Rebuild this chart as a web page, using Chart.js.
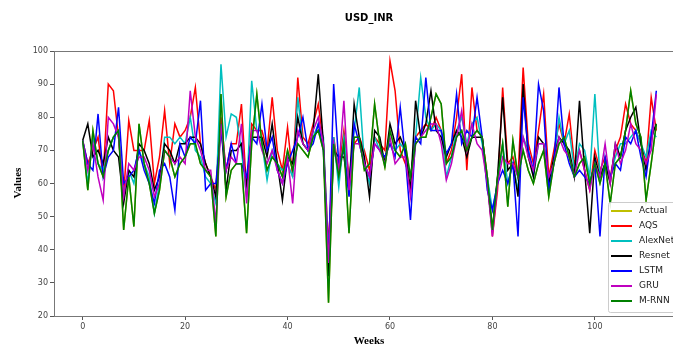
<html>
  <head>
    <script src="https://cdn.jsdelivr.net/npm/chart.js@4.4.1/dist/chart.umd.min.js"></script>
    <style>
      body { margin: 0; overflow: hidden; background: #fff; }
    </style>
  </head>
  <body>
    <canvas id="myChart" width="700" height="347"></canvas>
    <script>
      // weekly values (weeks 0..112)
      const actual = [
        73, 58, 76, 66, 62, 70, 74, 76, 46, 62,
        47, 78, 66, 60, 51, 58, 70, 68, 62, 66,
        68, 72, 72, 66, 64, 62, 44, 87, 56, 64,
        66, 66, 45, 72, 87, 72, 64, 68, 66, 62,
        70, 64, 72, 70, 68, 74, 76, 70, 24, 72,
        62, 72, 45, 74, 74, 64, 66, 84, 72, 65,
        76, 70, 68, 72, 62, 72, 74, 74, 80, 87,
        84, 66, 68, 74, 76, 70, 74, 76, 74, 62,
        46, 62, 72, 53, 73, 62, 70, 64, 60, 66,
        70, 56, 66, 72, 74, 68, 62, 66, 68, 60,
        66, 60, 66, 54, 66, 68, 76, 88, 78, 74,
        55, 66, 78
      ];
      const aqs = [
        73, 66, 70, 74, 62, 90, 88, 74, 57, 79,
        70, 70, 70, 79, 60, 68, 82, 66, 78, 74,
        76, 80, 89, 72, 66, 62, 58, 80, 64, 72,
        72, 84, 58, 78, 76, 76, 70, 86, 70, 64,
        77, 62, 92, 74, 72, 78, 84, 72, 41, 74,
        64, 76, 62, 72, 74, 70, 64, 74, 72, 70,
        97, 88, 70, 66, 62, 74, 76, 78, 76, 80,
        76, 66, 70, 80, 93, 64, 89, 76, 74, 62,
        44, 58, 89, 66, 68, 62, 95, 72, 66, 76,
        87, 62, 70, 78, 72, 81, 66, 70, 64, 58,
        70, 64, 68, 62, 70, 74, 84, 78, 76, 72,
        66, 86, 76
      ];
      const alexnet = [
        73, 60, 74, 66, 64, 70, 74, 76, 56, 64,
        60, 70, 66, 62, 51, 60, 74, 74, 72, 74,
        72, 80, 70, 68, 62, 60, 54, 96, 74, 81,
        80, 70, 56, 91, 76, 72, 61, 70, 66, 64,
        66, 62, 86, 72, 70, 74, 78, 74, 38, 74,
        59, 74, 60, 76, 89, 66, 60, 74, 70, 68,
        72, 70, 72, 70, 62, 74, 92, 80, 76, 78,
        76, 62, 68, 76, 80, 72, 78, 80, 72, 62,
        52, 60, 72, 60, 66, 58, 74, 70, 62, 72,
        72, 60, 66, 80, 72, 76, 64, 72, 70, 62,
        87, 62, 66, 62, 68, 72, 72, 74, 76, 72,
        68, 76, 74
      ];
      const resnet = [
        73, 78, 68, 70, 66, 74, 70, 68, 54, 64,
        62, 72, 70, 66, 58, 62, 72, 70, 66, 72,
        72, 74, 74, 72, 66, 62, 56, 78, 58, 70,
        70, 72, 60, 74, 74, 74, 68, 78, 66, 55,
        68, 66, 80, 72, 70, 76, 93, 72, 32, 70,
        68, 68, 58, 84, 74, 68, 56, 76, 74, 66,
        78, 72, 74, 70, 58, 85, 74, 78, 88, 76,
        74, 68, 72, 76, 74, 68, 74, 74, 74, 60,
        46, 62, 86, 64, 66, 56, 90, 68, 62, 74,
        72, 60, 68, 74, 72, 70, 62, 85, 64, 45,
        68, 62, 66, 60, 72, 68, 76, 80, 83, 72,
        64, 74, 78
      ];
      const lstm = [
        73, 66, 64, 81, 62, 68, 70, 83, 60, 62,
        64, 70, 64, 60, 54, 64, 66, 62, 52, 72,
        68, 74, 72, 85, 58, 60, 60, 76, 64, 72,
        66, 66, 62, 74, 72, 84, 70, 74, 64, 60,
        66, 70, 74, 80, 70, 72, 78, 70, 36, 90,
        66, 70, 56, 78, 72, 66, 62, 72, 70, 68,
        72, 68, 83, 68, 49, 74, 72, 92, 76, 76,
        76, 69, 72, 87, 72, 76, 74, 86, 74, 58,
        52, 60, 64, 60, 66, 44, 86, 70, 64, 90,
        82, 58, 66, 89, 72, 66, 62, 64, 62, 60,
        66, 44, 68, 62, 66, 64, 74, 72, 76, 68,
        62, 74, 88
      ];
      const gru = [
        73, 64, 72, 62, 55, 80, 78, 74, 56, 66,
        64, 68, 68, 64, 56, 60, 70, 68, 66, 68,
        66, 88, 74, 70, 64, 64, 48, 78, 64, 68,
        66, 78, 54, 76, 76, 70, 66, 70, 64, 60,
        68, 54, 76, 72, 70, 76, 80, 72, 36, 72,
        64, 85, 58, 72, 72, 66, 62, 72, 70, 66,
        74, 66, 68, 68, 56, 72, 74, 76, 78, 78,
        72, 61, 66, 74, 82, 70, 78, 72, 70, 60,
        44, 60, 68, 66, 66, 62, 74, 68, 64, 72,
        72, 62, 66, 74, 70, 68, 62, 70, 64, 58,
        66, 62, 72, 60, 72, 66, 70, 78, 72, 70,
        66, 70, 87
      ];
      const mrnn = [
        73, 58, 76, 66, 62, 70, 74, 76, 46, 62,
        47, 78, 66, 60, 51, 58, 70, 68, 62, 66,
        68, 72, 72, 66, 64, 62, 44, 87, 56, 64,
        66, 66, 45, 72, 87, 72, 64, 68, 66, 62,
        70, 64, 72, 70, 68, 74, 76, 70, 24, 72,
        62, 72, 45, 74, 74, 64, 66, 84, 72, 65,
        76, 70, 68, 72, 62, 72, 74, 74, 80, 87,
        84, 66, 68, 74, 76, 70, 74, 76, 74, 62,
        46, 62, 72, 53, 73, 62, 70, 64, 60, 66,
        70, 56, 66, 72, 74, 68, 62, 66, 68, 60,
        66, 60, 66, 54, 66, 68, 76, 88, 78, 74,
        55, 66, 78
      ];
      const seriesNames = ["Actual", "AQS", "AlexNet", "Resnet", "LSTM", "GRU", "M-RNN"];
      const seriesColors = ["#bfbf00", "#ff0000", "#00bfbf", "#000000", "#0000ff", "#bf00bf", "#008000"];
      const seriesData = [actual, aqs, alexnet, resnet, lstm, gru, mrnn];
      const xTicks = [0, 20, 40, 60, 80, 100];

      const extras = {
        id: "extras",
        afterDraw(chart) {
          const c = chart.ctx;
          const a = chart.chartArea;
          c.save();
          c.strokeStyle = "#777";
          c.lineWidth = 1;
          c.strokeRect(a.left + 0.5, a.top + 0.5, a.right - a.left, a.bottom - a.top);

          c.fillStyle = "#000";
          c.textAlign = "center";
          c.textBaseline = "middle";
          c.font = "bold 10px 'DejaVu Sans'";
          c.fillText("USD_INR", 369, 18);
          c.font = "bold 11px 'Liberation Serif'";
          c.fillText("Weeks", 369, 341);
          c.translate(18, 183);
          c.rotate(-Math.PI / 2);
          c.fillText("Values", 0, 0);
          c.restore();

          // legend box, lower right inside the axes
          c.save();
          c.fillStyle = "rgba(255,255,255,0.85)";
          c.strokeStyle = "#ccc";
          c.beginPath();
          c.roundRect(608.5, 202.5, 90, 110, 2);
          c.fill();
          c.stroke();
          c.font = "9px 'DejaVu Sans'";
          c.textAlign = "left";
          c.textBaseline = "middle";
          seriesNames.forEach((name, i) => {
            const y = 211 + i * 15;
            c.strokeStyle = seriesColors[i];
            c.lineWidth = 2;
            c.beginPath();
            c.moveTo(611, y);
            c.lineTo(632, y);
            c.stroke();
            c.fillStyle = "#222";
            c.fillText(name, 639, y);
          });
          c.restore();
        }
      };

      const ctx = document.getElementById("myChart").getContext("2d");
      const chart = new Chart(ctx, {
        type: "line",
        data: {
          datasets: seriesNames.map((name, i) => ({
            label: name,
            data: seriesData[i].map((v, w) => ({ x: w, y: v })),
            borderColor: seriesColors[i],
            borderWidth: 1.5,
            pointRadius: 0,
            tension: 0,
            fill: false,
            order: seriesNames.length - i // first series at the bottom, like matplotlib
          }))
        },
        options: {
          responsive: false,
          animation: false,
          layout: { padding: { top: 51, right: 15, left: 0, bottom: 0 } },
          plugins: { legend: { display: false }, tooltip: { enabled: false } },
          scales: {
            x: {
              type: "linear",
              min: -5.6,
              max: 117.6,
              afterFit: s => { s.height = 31; },
              afterBuildTicks: s => { s.ticks = xTicks.map(v => ({ value: v })); },
              ticks: { font: { size: 8, family: "DejaVu Sans" }, color: "#444", maxRotation: 0, padding: 2 },
              grid: { drawOnChartArea: false, tickLength: 4, color: "#555" },
              border: { display: false }
            },
            y: {
              min: 20,
              max: 100,
              afterFit: s => { s.width = 54; },
              ticks: { stepSize: 10, font: { size: 8, family: "DejaVu Sans" }, color: "#444", padding: 2 },
              grid: { drawOnChartArea: false, tickLength: 4, color: "#555" },
              border: { display: false }
            }
          }
        },
        plugins: [extras]
      });
    </script>
  </body>
</html>
